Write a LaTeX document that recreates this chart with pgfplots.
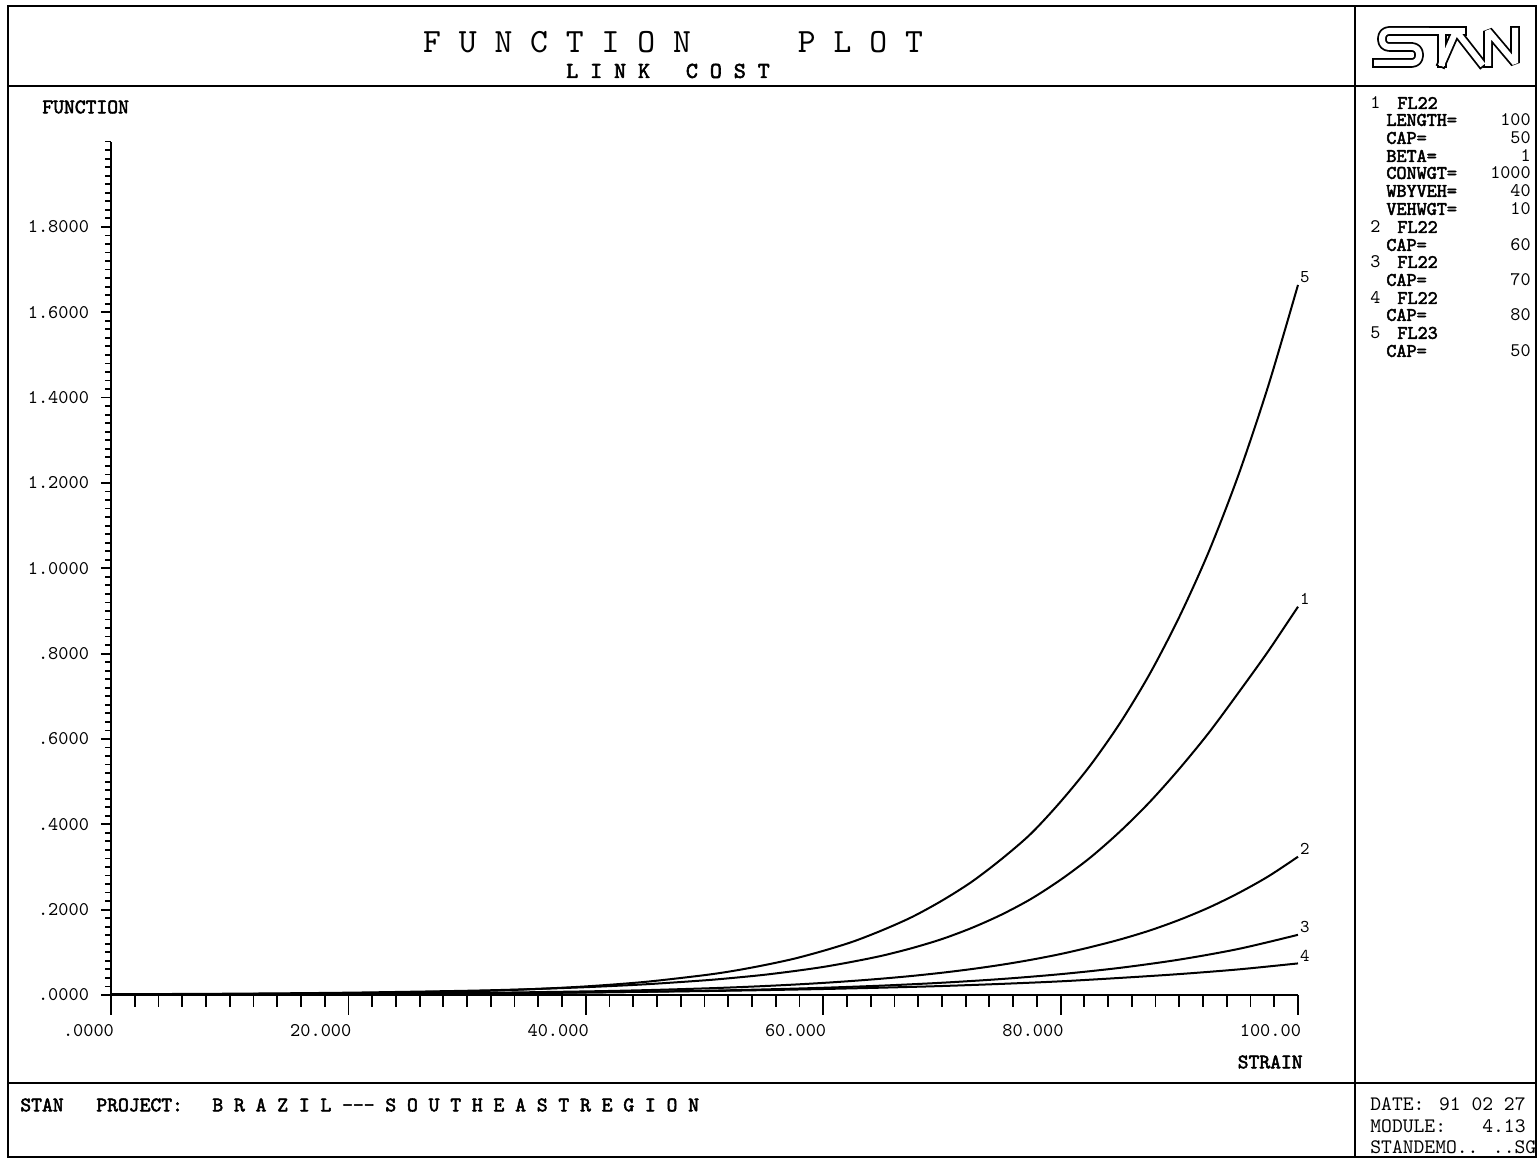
\documentclass[border=0pt]{standalone}
\usepackage{fontspec}
\setmainfont{lmmono10-regular.otf}[BoldFont=lmmono10-regular.otf, BoldFeatures={FakeBold=2.5}]
\usepackage{pgfplots}
\pgfplotsset{compat=1.18}
\tikzset{curvelab/.style={anchor=south west, inner sep=0.6pt, font=\fontsize{9}{10}\selectfont},
  crv/.style={black, line width=1pt, smooth, mark=none}}
\newcommand\panelfont{\fontsize{9.6}{10}\selectfont}
\newcommand\footfont{\fontsize{10.3}{11}\selectfont}
\newcommand\pl[3]{%
  \node[anchor=west,inner sep=0,font=\panelfont\bfseries] at (1386,#1) {#2};
  \node[anchor=east,inner sep=0,font=\panelfont] at (1531,#1) {#3};}
\newcommand\ph[3]{%
  \node[anchor=west,inner sep=0,font=\panelfont] at (1370,#1) {#2};
  \node[anchor=west,inner sep=0,font=\panelfont\bfseries] at (1397,#1) {#3};}
\newcommand\logopaths{%
  \draw[rounded corners=3.5pt] (1426,31) -- (1382,31) -- (1382,47) -- (1419,47) -- (1419,63) -- (1377,63);
  \draw (1429,31) -- (1462,31);
  \draw (1442,31) -- (1442,63);
  \draw (1442,63) -- (1456,31) -- (1481,63);
  \draw (1488,63) -- (1488,31) -- (1515,63) -- (1515,31);}
\begin{document}
\begin{tikzpicture}
\useasboundingbox (0,0) rectangle (769.5pt,579.5pt);
\begin{scope}[x=0.5pt,y=-0.5pt,shift={(0pt,579.5pt)}]
% frame
\draw[line width=1.1pt] (8,6) rectangle (1536,1157);
\draw[line width=0.9pt] (8,86) -- (1536,86);
\draw[line width=0.9pt] (8,1083) -- (1536,1083);
\draw[line width=0.9pt] (1355,6) -- (1355,1157);
% title
\node[font=\fontsize{17}{18}\selectfont] at (673,42) {F U N C T I O N\ \ \ \ \ \ P L O T};
\node[font=\fontsize{11.4}{12}\selectfont\bfseries] at (668,71) {L I N K\ \ \ C O S T};
% logo
\begin{scope}[line width=4.8pt, line cap=rect, line join=bevel, black]
\logopaths
\end{scope}
\begin{scope}[line width=3.0pt, line cap=rect, line join=bevel, white]
\logopaths
\end{scope}
% panel
\ph{103}{1}{FL22}
\pl{120}{LENGTH=}{100}
\pl{138}{CAP=}{50}
\pl{156}{BETA=}{1}
\pl{173}{CONWGT=}{1000}
\pl{191}{WBYVEH=}{40}
\pl{209}{VEHWGT=}{10}
\ph{227}{2}{FL22}
\pl{245}{CAP=}{60}
\ph{262}{3}{FL22}
\pl{280}{CAP=}{70}
\ph{298}{4}{FL22}
\pl{315}{CAP=}{80}
\ph{333}{5}{FL23}
\pl{351}{CAP=}{50}
% footer
\node[anchor=west,inner sep=0,font=\footfont\bfseries] at (20,1105) {STAN};
\node[anchor=west,inner sep=0,font=\footfont\bfseries] at (96,1105) {PROJECT:};
\node[anchor=west,inner sep=0,font=\footfont\bfseries] at (212,1105) {B R A Z I L {-}{-}{-} S O U T H E A S T R E G I O N};
\node[anchor=west,inner sep=0,font=\footfont] at (1370,1104) {DATE:};
\node[anchor=east,inner sep=0,font=\footfont] at (1526,1104) {91 02 27};
\node[anchor=west,inner sep=0,font=\footfont] at (1370,1126) {MODULE:};
\node[anchor=east,inner sep=0,font=\footfont] at (1526,1126) {4.13};
\node[anchor=west,inner sep=0,font=\footfont] at (1370,1147) {STANDEMO.. ..SG};
% axis labels
\node[anchor=west,inner sep=0,font=\footfont\bfseries] at (42,107) {FUNCTION};
\node[anchor=east,inner sep=0,font=\footfont\bfseries] at (1303,1062) {STRAIN};
\end{scope}
% x axis and curves
\begin{axis}[at={(55.5pt,82pt)}, anchor=south west, scale only axis,
  width=593.5pt, height=426.7pt, xmin=0, xmax=100, ymin=0, ymax=2,
  axis x line=bottom, axis y line=none,
  axis line style={-, line width=1.2pt},
  xtick={0,20,40,60,80,100},
  xticklabels={.0000,20.000,40.000,60.000,80.000,100.00},
  minor xtick={0,2,...,100},
  tick align=outside, major tick length=10pt, minor tick length=6pt,
  tick style={line width=0.9pt, black},
  xticklabel style={font=\fontsize{9.7}{11}\selectfont, anchor=north east, xshift=5pt, yshift=-1pt},
  clip=false]
% 5  FL23 CAP=50
\addplot[crv] coordinates {(0,0.001)(10,0.002)(20,0.004)(30,0.0085)(35,0.0131)(40,0.0201)(45,0.0307)(50,0.0465)(52.5,0.0568)(55,0.0697)(57.5,0.0847)(60,0.1034)(62.5,0.125)(65,0.152)(67.5,0.183)(70,0.221)(72.5,0.265)(75,0.318)(77.5,0.378)(80,0.453)(82.5,0.538)(85,0.637)(87.5,0.752)(90,0.886)(92.5,1.040)(95,1.220)(97.5,1.428)(100,1.664)} node[pos=1,curvelab] {5};
% 1  FL22 CAP=50
\addplot[crv] coordinates {(0,0.0017)(10,0.003)(20,0.0054)(30,0.0099)(35,0.0134)(40,0.0183)(45,0.0250)(50,0.0343)(52.5,0.0403)(55,0.0472)(57.5,0.0558)(60,0.0657)(62.5,0.0781)(65,0.0923)(67.5,0.110)(70,0.131)(72.5,0.157)(75,0.188)(77.5,0.225)(80,0.270)(82.5,0.322)(85,0.383)(87.5,0.452)(90,0.530)(92.5,0.615)(95,0.709)(97.5,0.806)(100,0.910)} node[pos=1,curvelab] {1};
% 2  FL22 CAP=60
\addplot[crv] coordinates {(0,0.001)(10,0.0015)(20,0.0025)(30,0.0045)(40,0.0084)(45,0.0113)(50,0.0154)(52.5,0.0179)(55,0.0209)(57.5,0.0243)(60,0.0283)(62.5,0.0330)(65,0.0384)(67.5,0.0447)(70,0.0521)(72.5,0.0607)(75,0.0707)(77.5,0.0824)(80,0.096)(82.5,0.112)(85,0.130)(87.5,0.151)(90,0.176)(92.5,0.205)(95,0.239)(97.5,0.278)(100,0.324)} node[pos=1,curvelab] {2};
% 3  FL22 CAP=70
\addplot[crv] coordinates {(0,0.001)(20,0.002)(30,0.0034)(40,0.0058)(50,0.0099)(55,0.013)(60,0.0169)(65,0.022)(70,0.0287)(75,0.0374)(80,0.0488)(85,0.0636)(90,0.0829)(95,0.108)(100,0.141)} node[pos=1,curvelab] {3};
% 4  FL22 CAP=80
\addplot[crv] coordinates {(0,0.0012)(20,0.0026)(30,0.004)(40,0.006)(50,0.0092)(55,0.0114)(60,0.014)(65,0.0172)(70,0.021)(75,0.026)(80,0.032)(85,0.040)(90,0.049)(95,0.060)(100,0.074)} node[pos=1,curvelab] {4};
\end{axis}
% y axis
\begin{axis}[at={(55.5pt,82pt)}, anchor=south west, scale only axis,
  width=593.5pt, height=426.7pt, xmin=0, xmax=100, ymin=0, ymax=2,
  axis y line=left, axis x line=none,
  axis line style={-, line width=1.2pt},
  ytick={0,0.2,0.4,0.6,0.8,1.0,1.2,1.4,1.6,1.8},
  yticklabels={.0000,.2000,.4000,.6000,.8000,1.0000,1.2000,1.4000,1.6000,1.8000},
  minor ytick={0,0.02,...,2.001},
  tick align=outside, major tick length=5pt, minor tick length=3pt,
  tick style={line width=0.9pt, black},
  yticklabel style={font=\fontsize{9.7}{11}\selectfont, anchor=east, xshift=-2.5pt}]
\end{axis}
\end{tikzpicture}
\end{document}
